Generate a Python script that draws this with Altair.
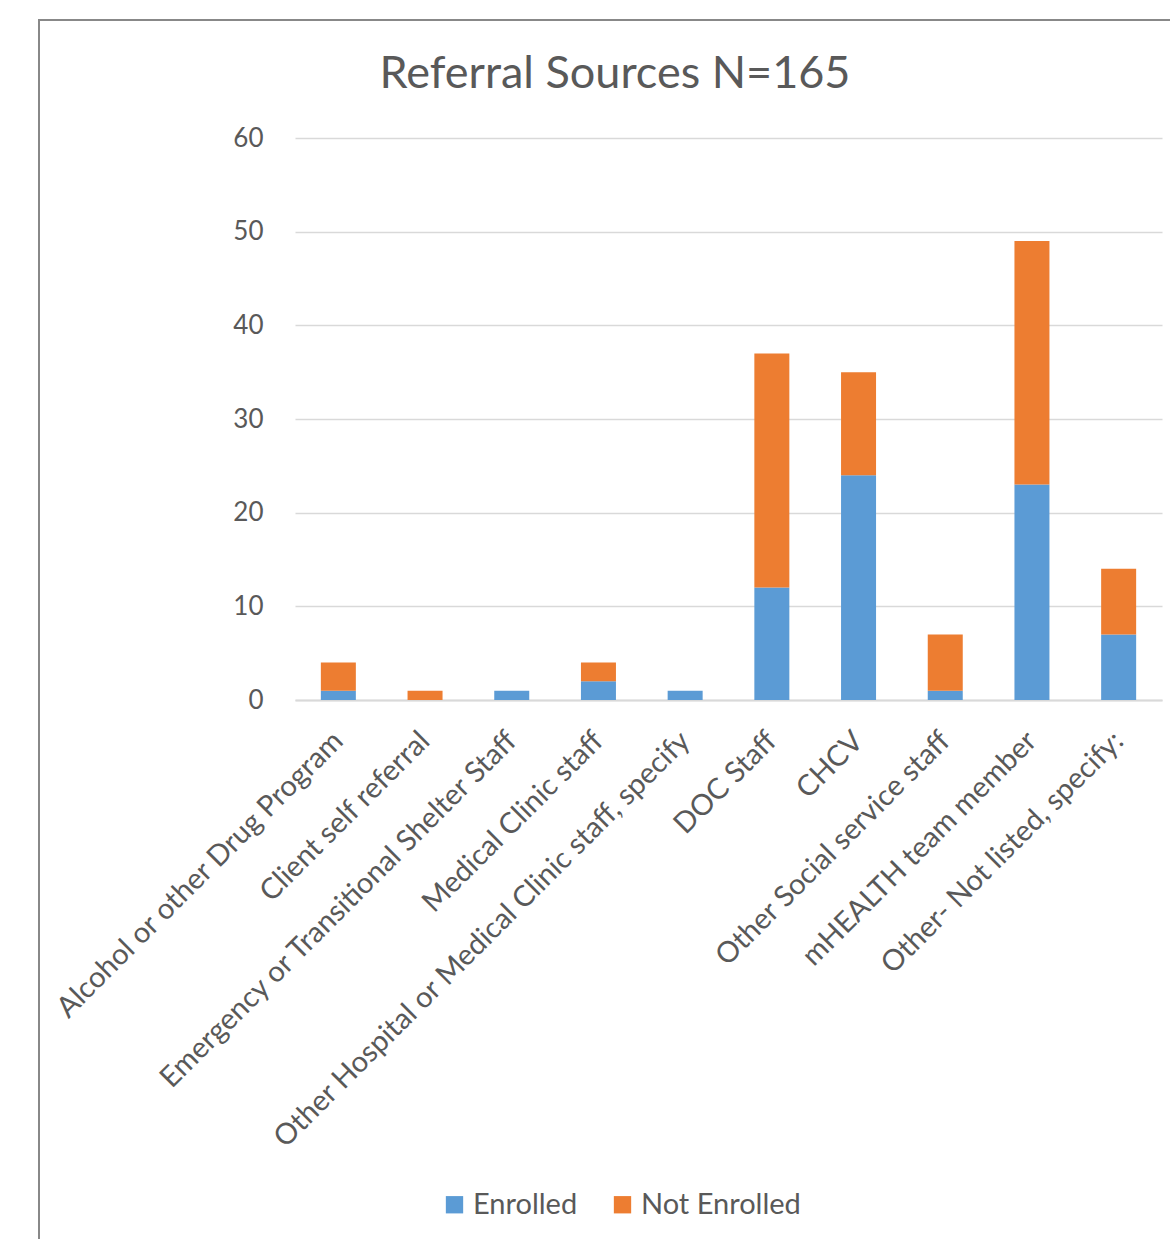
import altair as alt
import pandas as pd

title_text = "Referral Sources N=165"
categories = [
    "Alcohol or other Drug Program",
    "Client self referral",
    "Emergency or Transitional Shelter Staff",
    "Medical Clinic staff",
    "Other Hospital or Medical Clinic staff, specify",
    "DOC Staff",
    "CHCV",
    "Other Social service staff",
    "mHEALTH team member",
    "Other- Not listed, specify:",
]
enrolled = [1, 0, 1, 2, 1, 12, 24, 1, 23, 7]
not_enrolled = [3, 1, 0, 2, 0, 25, 11, 6, 26, 7]
series = ["Enrolled", "Not Enrolled"]
colors = ["#5B9BD5", "#ED7D31"]

rows = []
for c, e, n in zip(categories, enrolled, not_enrolled):
    rows.append({"cat": c, "series": "Enrolled", "value": e, "ord": 0})
    rows.append({"cat": c, "series": "Not Enrolled", "value": n, "ord": 1})
df = pd.DataFrame(rows)

FONT = "Lato"
TXT = "#595959"

bars = alt.Chart(df).mark_bar(size=35).encode(
    x=alt.X("cat:N", sort=categories, title=None,
            axis=alt.Axis(labelAngle=-45, labelAlign="right", labelBaseline="middle",
                          labelFontSize=29, labelColor=TXT, labelFont=FONT,
                          ticks=False, domainColor="#d9d9d9", domainWidth=2,
                          labelPadding=36, labelLimit=0),
            scale=alt.Scale(paddingInner=0.6, paddingOuter=0.3)),
    y=alt.Y("value:Q", title=None, stack="zero",
            scale=alt.Scale(domain=[0, 60]),
            axis=alt.Axis(values=[0, 10, 20, 30, 40, 50, 60], labelFontSize=26,
                          labelColor=TXT, labelFont=FONT, ticks=False, domain=False,
                          gridColor="#d9d9d9", gridWidth=1.5, labelPadding=32)),
    color=alt.Color("series:N", scale=alt.Scale(domain=series, range=colors),
                    legend=alt.Legend(title=None, orient="none", direction="horizontal",
                                      legendX=145, legendY=1052, symbolType="square",
                                      symbolSize=300, labelFontSize=29, labelColor=TXT,
                                      labelFont=FONT, columnPadding=30,
                                      symbolStrokeWidth=0)),
    order=alt.Order("ord:Q"),
)

frame = alt.Chart(pd.DataFrame({"k": [0]})).mark_rect(
    fill=None, stroke="#888888", strokeWidth=2, clip=False
).encode(x=alt.value(-256), x2=alt.value(1000), y=alt.value(-118), y2=alt.value(1300))

title = alt.Chart(pd.DataFrame({"t": [title_text]})).mark_text(
    fontSize=45, font=FONT, color=TXT, align="center", baseline="middle", clip=False
).encode(text="t:N", x=alt.value(320), y=alt.value(-64))

chart = alt.layer(frame, bars, title).properties(
    width=867, height=562,
    padding={"left": 295, "top": 138, "right": 8, "bottom": 539},
    autosize=alt.AutoSizeParams(type="none"),
).configure_view(stroke=None)

chart.save("out.html", embed_options={"renderer": "svg", "actions": False})
